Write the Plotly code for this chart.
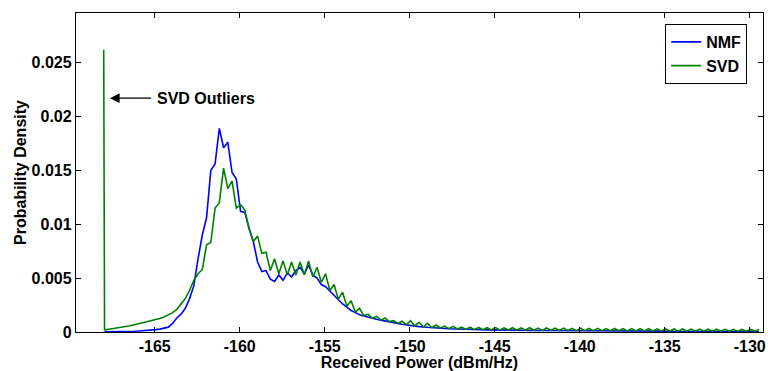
import plotly.graph_objects as go

# Bin centres of the received-power histogram (dBm/Hz)
power_grid = [
    -167.95, -167.70, -167.45, -167.20,
    -166.95, -166.70, -166.45, -166.20,
    -165.95, -165.70, -165.45, -165.20,
    -164.95, -164.70, -164.45, -164.20,
    -163.95, -163.70, -163.45, -163.20,
    -162.95, -162.70, -162.45, -162.20,
    -161.95, -161.70, -161.45, -161.20,
    -160.95, -160.70, -160.45, -160.20,
    -159.95, -159.70, -159.45, -159.20,
    -158.95, -158.70, -158.45, -158.20,
    -157.95, -157.70, -157.45, -157.20,
    -156.95, -156.70, -156.45, -156.20,
    -155.95, -155.70, -155.45, -155.20,
    -154.95, -154.70, -154.45, -154.20,
    -153.95, -153.70, -153.45, -153.20,
    -152.95, -152.70, -152.45, -152.20,
    -151.95, -151.70, -151.45, -151.20,
    -150.95, -150.70, -150.45, -150.20,
    -149.95, -149.70, -149.45, -149.20,
    -148.95, -148.70, -148.45, -148.20,
    -147.95, -147.70, -147.45, -147.20,
    -146.95, -146.70, -146.45, -146.20,
    -145.95, -145.70, -145.45, -145.20,
    -144.95, -144.70, -144.45, -144.20,
    -143.95, -143.70, -143.45, -143.20,
    -142.95, -142.70, -142.45, -142.20,
    -141.95, -141.70, -141.45, -141.20,
    -140.95, -140.70, -140.45, -140.20,
    -139.95, -139.70, -139.45, -139.20,
    -138.95, -138.70, -138.45, -138.20,
    -137.95, -137.70, -137.45, -137.20,
    -136.95, -136.70, -136.45, -136.20,
    -135.95, -135.70, -135.45, -135.20,
    -134.95, -134.70, -134.45, -134.20,
    -133.95, -133.70, -133.45, -133.20,
    -132.95, -132.70, -132.45, -132.20,
    -131.95, -131.70, -131.45, -131.20,
    -130.95, -130.70, -130.45, -130.20,
    -129.95, -129.70, -129.45,
]

nmf_density = [
    0.00001, 0.00001, 0.00002, 0.00002,
    0.00003, 0.00004, 0.00005, 0.00007,
    0.00009, 0.00011, 0.00014, 0.00018,
    0.00022, 0.00027, 0.00034, 0.00045,
    0.00080, 0.00130, 0.00165, 0.00220,
    0.00310, 0.00430, 0.00680, 0.00900,
    0.01060, 0.01500, 0.01560, 0.01890,
    0.01710, 0.01760, 0.01480, 0.01420,
    0.01120, 0.01110, 0.00960, 0.00840,
    0.00650, 0.00560, 0.00570, 0.00490,
    0.00470, 0.00530, 0.00480, 0.00550,
    0.00510, 0.00570, 0.00600, 0.00540,
    0.00620, 0.00530, 0.00500, 0.00440,
    0.00420, 0.00380, 0.00340, 0.00300,
    0.00260, 0.00230, 0.00200, 0.00180,
    0.00160, 0.00148, 0.00136, 0.00126,
    0.00118, 0.00110, 0.00104, 0.00096,
    0.00088, 0.00080, 0.00072, 0.00065,
    0.00060, 0.00055, 0.00050, 0.00046,
    0.00042, 0.00039, 0.00036, 0.00034,
    0.00032, 0.00030, 0.00028, 0.00026,
    0.00025, 0.00024, 0.00023, 0.00022,
    0.00021, 0.00021, 0.00020, 0.00019,
    0.00019, 0.00018, 0.00018, 0.00017,
    0.00017, 0.00016, 0.00016, 0.00015,
    0.00015, 0.00015, 0.00014, 0.00014,
    0.00014, 0.00013, 0.00013, 0.00013,
    0.00012, 0.00012, 0.00012, 0.00012,
    0.00011, 0.00011, 0.00011, 0.00011,
    0.00010, 0.00010, 0.00010, 0.00010,
    0.00010, 0.00009, 0.00009, 0.00009,
    0.00009, 0.00009, 0.00009, 0.00008,
    0.00008, 0.00008, 0.00008, 0.00008,
    0.00008, 0.00008, 0.00007, 0.00007,
    0.00007, 0.00007, 0.00007, 0.00007,
    0.00007, 0.00007, 0.00006, 0.00006,
    0.00006, 0.00006, 0.00006, 0.00006,
    0.00006, 0.00006, 0.00006, 0.00005,
    0.00005, 0.00005, 0.00005,
]

# SVD outlier spike (first bin) followed by the regular histogram
svd_spike_power = -168.0
svd_spike_density = 0.0262
svd_density = [
    0.00020, 0.00026, 0.00031, 0.00037,
    0.00043, 0.00050, 0.00058, 0.00067,
    0.00076, 0.00085, 0.00094, 0.00104,
    0.00114, 0.00126, 0.00140, 0.00158,
    0.00180, 0.00210, 0.00262, 0.00310,
    0.00385, 0.00480, 0.00540, 0.00580,
    0.00810, 0.00830, 0.01150, 0.01200,
    0.01520, 0.01330, 0.01400, 0.01150,
    0.01180, 0.01130, 0.00960, 0.00840,
    0.00890, 0.00730, 0.00740, 0.00570,
    0.00680, 0.00540, 0.00660, 0.00530,
    0.00650, 0.00530, 0.00650, 0.00530,
    0.00660, 0.00510, 0.00600, 0.00460,
    0.00540, 0.00385, 0.00440, 0.00305,
    0.00370, 0.00240, 0.00290, 0.00185,
    0.00220, 0.00150, 0.00165, 0.00128,
    0.00145, 0.00110, 0.00130, 0.00097,
    0.00105, 0.00080, 0.00100, 0.00066,
    0.00105, 0.00056, 0.00090, 0.00047,
    0.00080, 0.00040, 0.00065, 0.00035,
    0.00055, 0.00031, 0.00052, 0.00028,
    0.00045, 0.00024, 0.00044, 0.00022,
    0.00042, 0.00021, 0.00040, 0.00020,
    0.00041, 0.00019, 0.00038, 0.00018,
    0.00040, 0.00017, 0.00037, 0.00016,
    0.00039, 0.00016, 0.00036, 0.00015,
    0.00037, 0.00015, 0.00035, 0.00014,
    0.00036, 0.00014, 0.00034, 0.00013,
    0.00035, 0.00013, 0.00033, 0.00012,
    0.00034, 0.00012, 0.00032, 0.00011,
    0.00033, 0.00011, 0.00032, 0.00010,
    0.00031, 0.00010, 0.00030, 0.00010,
    0.00030, 0.00009, 0.00029, 0.00009,
    0.00029, 0.00009, 0.00028, 0.00008,
    0.00028, 0.00008, 0.00027, 0.00008,
    0.00027, 0.00007, 0.00026, 0.00007,
    0.00026, 0.00007, 0.00025, 0.00007,
    0.00025, 0.00006, 0.00024, 0.00006,
    0.00024, 0.00006, 0.00023,
]

x_tick_values = [-165, -160, -155, -150, -145, -140, -135, -130]
x_tick_labels = ["-165", "-160", "-155", "-150", "-145", "-140", "-135", "-130"]
y_tick_values = [0, 0.005, 0.01, 0.015, 0.02, 0.025]
y_tick_labels = ["0", "0.005", "0.01", "0.015", "0.02", "0.025"]

annotation_text = "SVD Outliers"
annotation_power = -165.0
annotation_arrow_tip = -167.63
annotation_density = 0.0217

FONT = "Liberation Sans, Arial, Helvetica, sans-serif"

fig = go.Figure()
fig.add_trace(go.Scatter(
    x=power_grid, y=nmf_density, mode="lines", name="NMF",
    line=dict(color="#0000FF", width=1.6),
))
fig.add_trace(go.Scatter(
    x=[svd_spike_power] + power_grid, y=[svd_spike_density] + svd_density,
    mode="lines", name="SVD",
    line=dict(color="#008000", width=1.6),
))

fig.add_annotation(
    x=annotation_arrow_tip, y=annotation_density,
    ax=annotation_power - 0.12, ay=annotation_density,
    axref="x", ayref="y", xref="x", yref="y",
    text="", showarrow=True, arrowhead=2, arrowsize=1.6, arrowwidth=1.2,
    arrowcolor="black", standoff=0, startstandoff=0,
)
fig.add_annotation(
    x=annotation_power, y=annotation_density, xref="x", yref="y",
    text=annotation_text, showarrow=False, xanchor="left", yanchor="middle",
    font=dict(family=FONT, size=16, color="black", weight="bold"),
)

axis_common = dict(
    showline=True, linecolor="black", linewidth=1.3, mirror="ticks",
    ticks="inside", ticklen=5, tickwidth=1, tickcolor="black",
    showgrid=False, zeroline=False,
    tickfont=dict(family=FONT, size=16, color="black", weight="bold"),
)

fig.update_layout(
    width=768, height=371,
    margin=dict(l=76, r=2, t=13, b=37),
    plot_bgcolor="white", paper_bgcolor="white",
    font=dict(family=FONT, size=16, color="black", weight="bold"),
    xaxis=dict(
        range=[-169.63, -129.22], tickvals=x_tick_values, ticktext=x_tick_labels,
        title=dict(text="Received Power (dBm/Hz)", standoff=2,
                   font=dict(family=FONT, size=16, color="black", weight="bold")),
        **axis_common,
    ),
    yaxis=dict(
        range=[0, 0.0296], tickvals=y_tick_values, ticktext=y_tick_labels,
        title=dict(text="Probability Density", standoff=1,
                   font=dict(family=FONT, size=16, color="black", weight="bold")),
        **axis_common,
    ),
    legend=dict(
        x=0.977, y=0.9657, xanchor="right", yanchor="top",
        bordercolor="black", borderwidth=1, bgcolor="white",
        itemwidth=30, tracegroupgap=0,
        font=dict(family=FONT, size=16, color="black", weight="bold"),
    ),
)

fig.write_html("out.html")
